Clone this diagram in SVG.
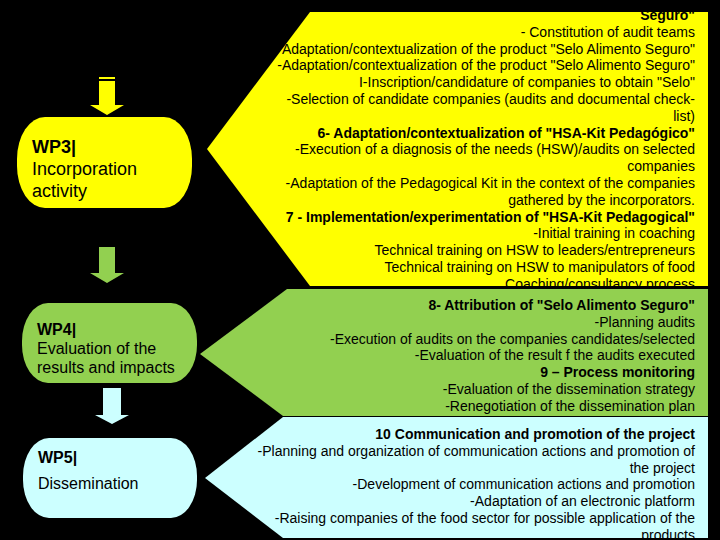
<svg xmlns="http://www.w3.org/2000/svg" width="720" height="540" viewBox="0 0 720 540">
<defs>
<style>
.t{font-family:"Liberation Sans",Arial,sans-serif;font-size:14px;fill:#000;text-anchor:end}
.b{font-weight:bold}
.n{font-family:"Liberation Sans",Arial,sans-serif;fill:#000}
.y{fill:#FFFF00}
.g{fill:#92D050}
.c{fill:#CCFFFF}
</style>
<clipPath id="cy"><rect x="0" y="12" width="720" height="274"/></clipPath>
<clipPath id="cg"><rect x="0" y="289" width="720" height="127"/></clipPath>
<clipPath id="cc"><rect x="0" y="417" width="720" height="121"/></clipPath>
</defs>
<rect width="720" height="540" fill="#000"/>

<g id="connectors">
<rect class="y" x="99" y="77" width="16" height="2"/>
<polygon class="y" points="99,81 115,81 115,105 124,105 107,115 90,105 99,105"/>
<polygon class="g" points="99,247 115,247 115,273 124,273 107,283 90,273 99,273"/>
<polygon class="c" points="103,388 121,388 121,415 129,415 112,424 95,415 103,415"/>
</g>

<g id="wp3">
<rect class="y" x="17" y="117" width="175" height="91" rx="28" ry="42"/>
<text class="n" x="32" y="153" font-size="18" font-weight="bold">WP3|</text>
<text class="n" x="32" y="175" font-size="18">Incorporation</text>
<text class="n" x="32" y="197" font-size="18">activity</text>
</g>

<g id="wp4">
<rect class="g" x="22" y="303" width="175" height="80" rx="26" ry="38"/>
<text class="n" x="37" y="335" font-size="16" font-weight="bold">WP4|</text>
<text class="n" x="37" y="354" font-size="16">Evaluation of the</text>
<text class="n" x="37" y="373" font-size="16">results and impacts</text>
</g>

<g id="wp5">
<rect class="c" x="23" y="438" width="174" height="80" rx="26" ry="38"/>
<text class="n" x="38" y="463" font-size="16" font-weight="bold">WP5|</text>
<text class="n" x="38" y="489" font-size="16">Dissemination</text>
</g>

<g id="wp3-tasks">
<polygon class="y" points="207,149 310,12 708,12 708,286 310,286"/>
<g clip-path="url(#cy)">
<text class="t b" x="695" y="20">Seguro"</text>
<text class="t" x="695" y="36.8">- Constitution of audit teams</text>
<text class="t" x="695" y="53.6">Adaptation/contextualization of the product "Selo Alimento Seguro"</text>
<text class="t" x="695" y="70.4">-Adaptation/contextualization of the product "Selo Alimento Seguro"</text>
<text class="t" x="695" y="87.2">I-Inscription/candidature of companies to obtain "Selo"</text>
<text class="t" x="695" y="104">-Selection of candidate companies (audits and documental check-</text>
<text class="t" x="695" y="120.8">list)</text>
<text class="t b" x="695" y="137.6">6- Adaptation/contextualization of "HSA-Kit Pedagógico"</text>
<text class="t" x="695" y="154.4">-Execution of a diagnosis of the needs (HSW)/audits on selected</text>
<text class="t" x="695" y="171.2">companies</text>
<text class="t" x="695" y="188">-Adaptation of the Pedagogical Kit in the context of the companies</text>
<text class="t" x="695" y="204.8">gathered by the incorporators.</text>
<text class="t b" x="695" y="221.6">7 - Implementation/experimentation of "HSA-Kit Pedagogical"</text>
<text class="t" x="695" y="238.4">-Initial training in coaching</text>
<text class="t" x="695" y="255.2">Technical training on HSW to leaders/entrepreneurs</text>
<text class="t" x="695" y="272">Technical training on HSW to manipulators of food</text>
<text class="t" x="695" y="288.8">Coaching/consultancy process</text>
</g>
</g>

<g id="wp4-tasks">
<polygon class="g" points="200,354 287,289 708,289 708,416 283,416"/>
<g clip-path="url(#cg)">
<text class="t b" x="695" y="310">8- Attribution of "Selo Alimento Seguro"</text>
<text class="t" x="695" y="326.8">-Planning audits</text>
<text class="t" x="695" y="343.6">-Execution of audits on the companies candidates/selected</text>
<text class="t" x="695" y="360.4">-Evaluation of the result f the audits executed</text>
<text class="t b" x="695" y="377.2">9 – Process monitoring</text>
<text class="t" x="695" y="394">-Evaluation of the dissemination strategy</text>
<text class="t" x="695" y="410.8">-Renegotiation of the dissemination plan</text>
</g>
</g>

<g id="wp5-tasks">
<polygon class="c" points="205,478 283,417 708,417 708,538 283,538"/>
<g clip-path="url(#cc)">
<text class="t b" x="695" y="439">10 Communication and promotion of the project</text>
<text class="t" x="695" y="455.8">-Planning and organization of communication actions and promotion of</text>
<text class="t" x="695" y="472.6">the project</text>
<text class="t" x="695" y="489.4">-Development of communication actions and promotion</text>
<text class="t" x="695" y="506.2">-Adaptation of an electronic platform</text>
<text class="t" x="695" y="523">-Raising companies of the food sector for possible application of the</text>
<text class="t" x="695" y="539.8">products</text>
</g>
</g>
</svg>
